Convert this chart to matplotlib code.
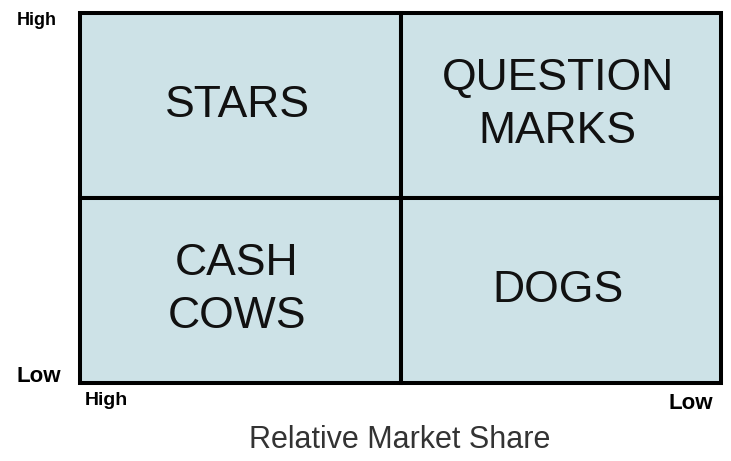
import matplotlib
matplotlib.use("Agg")
import matplotlib.pyplot as plt
from matplotlib.patches import Rectangle

# quadrant data
quadrants = ["STARS", "QUESTION\nMARKS", "CASH\nCOWS", "DOGS"]
cols = [0, 1, 0, 1]
rows = [1, 1, 0, 0]
x_labels = ["High", "Low"]
y_labels = ["Low", "High"]
x_title = "Relative Market Share"

fill = "#cde2e7"
W, H = 731, 461

plt.rcParams['font.family'] = ['Liberation Sans', 'DejaVu Sans']
fig = plt.figure(figsize=(W / 100, H / 100), dpi=100)
ax = fig.add_axes([80 / W, 1 - 382.5 / H, 641 / W, 370 / H])
ax.set_xlim(0, 2)
ax.set_ylim(0, 2)
ax.axis('off')

for name, c, r in zip(quadrants, cols, rows):
    ax.add_patch(Rectangle((c, r), 1, 1, facecolor=fill, edgecolor='black',
                           linewidth=2.9, clip_on=False))
    ax.text(c + 0.49, r + 0.50, name, ha='center', va='center', fontsize=32,
            linespacing=1.38, color='#111111')

# axis end labels
fig.text(17 / W, 1 - 12 / H, y_labels[1], ha='left', va='top', fontsize=13, fontweight='bold')
fig.text(17 / W, 1 - 382 / H, y_labels[0], ha='left', va='baseline', fontsize=16, fontweight='bold')
fig.text(85 / W, 1 - 392 / H, x_labels[0], ha='left', va='top', fontsize=14, fontweight='bold')
fig.text(713 / W, 1 - 393 / H, x_labels[1], ha='right', va='top', fontsize=16, fontweight='bold')
fig.text(400 / W, 1 - 440 / H, x_title, ha='center', va='center', fontsize=22, color='#333333')

fig.savefig("out.png", dpi=100)
